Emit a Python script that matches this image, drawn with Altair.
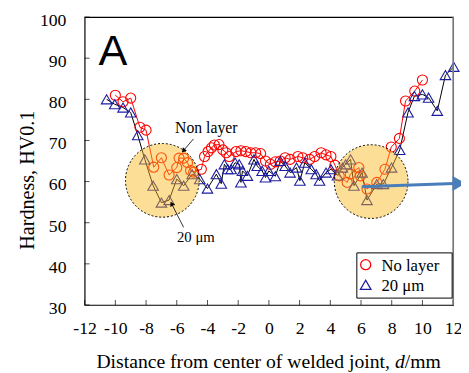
import altair as alt
import pandas as pd

# ---- data ----
red_x = [-10.0, -9.5, -9.0, -8.4, -8.0, -7.5, -7.0, -6.5, -6.0, -5.85, -5.55, -5.3, -5.1, -4.9, -4.4,
         -4.19, -3.96, -3.74, -3.55, -3.25, -3.0, -2.78, -2.59, -2.14, -1.82, -1.5, -1.18, -0.86, -0.54, -0.22,
         0.1, 0.42, 0.74, 1.06, 1.38, 1.89, 2.2, 2.66, 2.98, 3.4, 3.72, 4.04, 4.3, 4.58, 5.1,
         5.3, 5.86, 5.96, 6.39, 7.03, 7.56, 7.97, 8.5, 8.9, 9.5, 10.0]
red_y = [81.0, 79.4, 80.3, 73.2, 72.5, 63.5, 65.8, 61.6, 63.4, 65.7, 65.7, 64.6, 62.7, 62.3, 63.0,
         66.1, 67.3, 68.2, 68.9, 69.0, 67.7, 67.0, 66.1, 67.3, 67.5, 67.3, 67.0, 67.0, 66.8, 65.0,
         64.2, 64.8, 65.0, 65.8, 65.4, 66.1, 65.8, 65.4, 66.1, 67.0, 66.5, 66.1, 64.0, 61.4, 59.8,
         61.8, 63.4, 61.4, 58.2, 59.8, 63.0, 68.4, 70.5, 79.6, 82.0, 84.7]

blue_x = [-10.57, -10.04, -9.5, -9.0, -8.54, -8.08, -7.54, -7.0, -6.5, -6.0, -5.55, -5.0, -4.5, -4.0, -3.42,
          -3.1, -2.9, -2.68, -2.46, -2.2, -1.93, -1.82, -1.72, -1.4, -0.97, -0.76, -0.44, -0.22, -0.01, 0.42,
          0.74, 1.06, 1.38, 1.8, 2.02, 2.34, 2.76, 3.08, 3.3, 3.72, 4.04, 4.47, 4.79, 5.0, 5.32,
          5.54, 6.07, 6.39, 7.03, 7.46, 7.99, 8.52, 9.06, 9.48, 10.0, 10.4, 10.97, 11.5, 12.04]
blue_y = [80.0, 78.8, 78.0, 76.8, 71.3, 65.4, 59.0, 54.9, 55.5, 60.6, 59.0, 61.8, 60.6, 58.3, 61.8,
          59.5, 64.2, 63.0, 63.0, 64.6, 64.2, 59.8, 62.6, 61.4, 65.4, 63.8, 62.6, 61.0, 62.6, 61.3,
          65.0, 63.8, 62.2, 63.4, 60.2, 64.6, 63.0, 61.8, 60.2, 62.2, 63.0, 61.5, 63.4, 64.2, 65.4,
          59.0, 62.2, 55.5, 59.4, 59.4, 63.4, 67.7, 76.8, 80.8, 81.2, 80.4, 77.2, 85.9, 87.9]

x_ticks = list(range(-12, 13, 2))
y_ticks = list(range(30, 101, 10))
series_names = ["No layer", "20 μm"]

# highlighted zones (centre in data units)
zone_d = [-6.94, 6.66]
zone_hv = [60.3, 60.0]

W, H = 375, 293
SERIF = "Liberation Serif"
RED = "#FF0000"
NAVY = "#1C1CA0"

red_df = pd.DataFrame({"d": red_x, "hv": red_y})
blue_df = pd.DataFrame({"d": blue_x, "hv": blue_y})
xt_df = pd.DataFrame({"d": x_ticks})
yt_df = pd.DataFrame({"hv": y_ticks})
zone_df = pd.DataFrame({"d": zone_d, "hv": zone_hv})
one = pd.DataFrame({"k": [0]})

xscale = alt.Scale(domain=[-12, 12], nice=False, zero=False)
yscale = alt.Scale(domain=[30, 100], nice=False, zero=False)

x_axis = alt.Axis(values=x_ticks, title=None, grid=False, ticks=False, domain=False,
                  labelFont=SERIF, labelFontSize=18, labelColor="black", labelPadding=15,
                  labelFlush=False, labelOverlap=False, labelExpr="'' + datum.value")
y_axis = alt.Axis(values=y_ticks, title=None, grid=False, ticks=False, domain=False,
                  labelFont=SERIF, labelFontSize=18, labelColor="black", labelPadding=19,
                  labelOffset=3.5, labelOverlap=False)

X = alt.X("d:Q", scale=xscale, axis=x_axis)
Y = alt.Y("hv:Q", scale=yscale, axis=y_axis)

red_line = alt.Chart(red_df).mark_line(color=RED, strokeWidth=1).encode(x=X, y=Y, order="d:Q")
red_pts = alt.Chart(red_df).mark_point(shape="circle", size=105, color=RED, filled=False,
                                       strokeWidth=1.1, opacity=1).encode(x=X, y=Y)
blue_line = alt.Chart(blue_df).mark_line(color="black", strokeWidth=1).encode(x=X, y=Y, order="d:Q")
blue_pts = alt.Chart(blue_df).mark_point(shape="triangle-up", size=115, color=NAVY, filled=False,
                                         strokeWidth=1.1, opacity=1).encode(x=X, y=Y)

# inner tick marks
xt = alt.Chart(xt_df).mark_tick(orient="vertical", size=5, thickness=1, color="black").encode(
    x=X, y=alt.value(H - 2.5))
yt = alt.Chart(yt_df).mark_tick(orient="horizontal", size=5, thickness=1, color="black").encode(
    y=Y, x=alt.value(2.5))

# highlight circles
hl = alt.Chart(zone_df).mark_point(
    shape="circle", size=5625, fill="#F9B616", fillOpacity=0.45, stroke="black",
    strokeWidth=1, strokeDash=[2, 2], opacity=1).encode(x=X, y=Y)

# right grey border
rborder = alt.Chart(one).mark_rule(color="#888888", strokeWidth=1.5).encode(
    x=alt.value(W), y=alt.value(0), y2=alt.value(H))

def txt(s, x, y, size, align="left", font=SERIF, style="normal", angle=0, baseline="alphabetic"):
    return alt.Chart(one).mark_text(text=s, font=font, fontSize=size, align=align, fontStyle=style,
                                    baseline=baseline, angle=angle, color="black").encode(
        x=alt.value(x), y=alt.value(y))

def seg(x1, y1, x2, y2, color="black", w=0.8):
    return alt.Chart(one).mark_rule(color=color, strokeWidth=w).encode(
        x=alt.value(x1), y=alt.value(y1), x2=alt.value(x2), y2=alt.value(y2))

def head(x, y, ang, size=28, color="black", shape="triangle-up"):
    return alt.Chart(one).mark_point(shape=shape, size=size, filled=True, color=color, opacity=1,
                                     angle=ang).encode(x=alt.value(x), y=alt.value(y))

TF = 20
ann = [
    txt("A", 14, 49, 44, font="Liberation Sans"),
    txt("Non layer", 92, 118, 16),
    seg(110.7, 124, 99.5, 137.2), head(100.5, 136, 220),
    txt("20 μm", 94, 229, 15),
    seg(100.7, 214, 88, 189), head(88.5, 190, 333),
    seg(282, 172.7, 376, 169.3, color="#4A7EBB", w=3),
    head(381, 169.3, 0, size=230, color="#4A7EBB", shape="triangle-right"),
    # axis titles
    txt("Hardness, HV0.1", -58, 166, 20.5, align="center", angle=270, baseline="middle"),
    txt("Distance from center of welded joint,", 12, 357, TF),
    txt("d", 12 + 15.19 * TF, 357, TF, style="italic"),
    txt("/mm", 12 + 15.69 * TF, 357, TF),
]

# legend
legend = [
    alt.Chart(one).mark_rect(fill="white", stroke="black", strokeWidth=1).encode(
        x=alt.value(277), x2=alt.value(374), y=alt.value(240), y2=alt.value(286)),
    alt.Chart(one).mark_point(shape="circle", size=105, color=RED, filled=False, strokeWidth=1.3,
                              opacity=1).encode(x=alt.value(286), y=alt.value(252)),
    alt.Chart(one).mark_point(shape="triangle-up", size=115, color=NAVY, filled=False, strokeWidth=1.3,
                              opacity=1).encode(x=alt.value(286), y=alt.value(272.5)),
    txt(series_names[0], 302, 258, 17),
    txt(series_names[1], 302, 278.5, 17),
]

chart = alt.layer(
    red_line, blue_line, red_pts, blue_pts, xt, yt, hl, rborder, *ann, *legend
).properties(
    width=W, height=H,
    autosize=alt.AutoSizeParams(type="none"),
    padding={"left": 78, "top": 6, "right": 8, "bottom": 66},
).configure_view(stroke="black", strokeWidth=1.2)

chart.save("out.html", embed_options={"renderer": "svg", "actions": False})
